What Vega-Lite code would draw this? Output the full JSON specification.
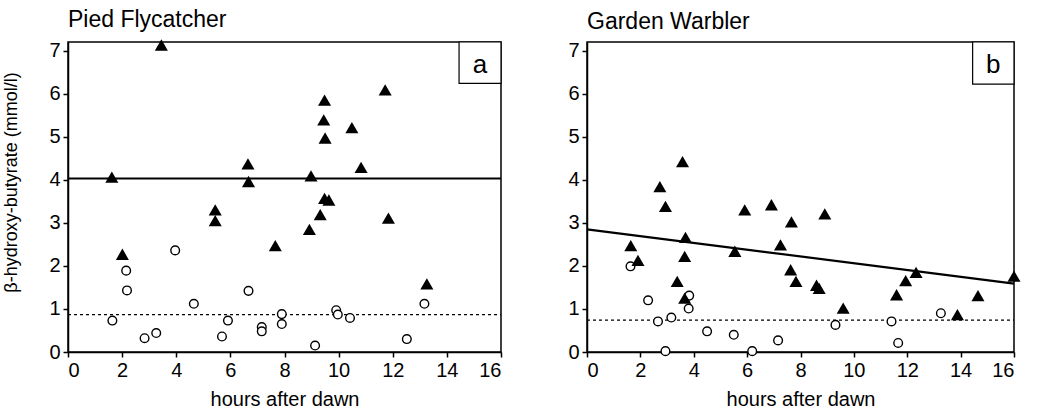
{
  "$schema": "https://vega.github.io/schema/vega-lite/v6.json",
  "background": "white",
  "padding": {"left": 2, "top": 8, "right": 5, "bottom": 0},
  "spacing": 60,
  "config": {
    "font": "Liberation Sans",
    "view": {"stroke": "black", "strokeWidth": 1.5},
    "axis": {
      "grid": false,
      "domainColor": "black",
      "domainWidth": 1.5,
      "tickColor": "black",
      "tickWidth": 1.5,
      "tickSize": 5,
      "labelColor": "black",
      "labelFont": "Liberation Sans",
      "labelFontSize": 20,
      "labelPadding": 3,
      "titleColor": "black",
      "titleFont": "Liberation Sans",
      "titleFontWeight": "normal"
    },
    "title": {"font": "Liberation Sans", "fontSize": 23, "fontWeight": "normal", "color": "black", "anchor": "start", "frame": "group", "offset": 7}
  },
  "datasets": {
    "points": [
      {"panel": "a", "group": "g1", "hours": 1.62, "bhb": 4.06},
      {"panel": "a", "group": "g1", "hours": 2.01, "bhb": 2.27},
      {"panel": "a", "group": "g1", "hours": 3.45, "bhb": 7.13},
      {"panel": "a", "group": "g1", "hours": 5.44, "bhb": 3.30},
      {"panel": "a", "group": "g1", "hours": 5.44, "bhb": 3.05},
      {"panel": "a", "group": "g1", "hours": 6.65, "bhb": 4.37},
      {"panel": "a", "group": "g1", "hours": 6.67, "bhb": 3.96},
      {"panel": "a", "group": "g1", "hours": 7.66, "bhb": 2.47},
      {"panel": "a", "group": "g1", "hours": 8.92, "bhb": 2.85},
      {"panel": "a", "group": "g1", "hours": 8.98, "bhb": 4.09},
      {"panel": "a", "group": "g1", "hours": 9.32, "bhb": 3.19},
      {"panel": "a", "group": "g1", "hours": 9.45, "bhb": 5.39},
      {"panel": "a", "group": "g1", "hours": 9.48, "bhb": 5.85},
      {"panel": "a", "group": "g1", "hours": 9.50, "bhb": 4.97},
      {"panel": "a", "group": "g1", "hours": 9.48, "bhb": 3.57},
      {"panel": "a", "group": "g1", "hours": 9.64, "bhb": 3.53},
      {"panel": "a", "group": "g1", "hours": 10.49, "bhb": 5.21},
      {"panel": "a", "group": "g1", "hours": 10.83, "bhb": 4.29},
      {"panel": "a", "group": "g1", "hours": 11.72, "bhb": 6.09},
      {"panel": "a", "group": "g1", "hours": 11.84, "bhb": 3.11},
      {"panel": "a", "group": "g1", "hours": 13.26, "bhb": 1.58},
      {"panel": "a", "group": "g2", "hours": 1.64, "bhb": 0.73},
      {"panel": "a", "group": "g2", "hours": 2.15, "bhb": 1.89},
      {"panel": "a", "group": "g2", "hours": 2.18, "bhb": 1.43},
      {"panel": "a", "group": "g2", "hours": 2.83, "bhb": 0.32},
      {"panel": "a", "group": "g2", "hours": 3.26, "bhb": 0.44},
      {"panel": "a", "group": "g2", "hours": 3.96, "bhb": 2.36},
      {"panel": "a", "group": "g2", "hours": 4.65, "bhb": 1.12},
      {"panel": "a", "group": "g2", "hours": 5.69, "bhb": 0.36},
      {"panel": "a", "group": "g2", "hours": 5.91, "bhb": 0.73},
      {"panel": "a", "group": "g2", "hours": 6.67, "bhb": 1.42},
      {"panel": "a", "group": "g2", "hours": 7.16, "bhb": 0.58},
      {"panel": "a", "group": "g2", "hours": 7.16, "bhb": 0.48},
      {"panel": "a", "group": "g2", "hours": 7.90, "bhb": 0.88},
      {"panel": "a", "group": "g2", "hours": 7.90, "bhb": 0.65},
      {"panel": "a", "group": "g2", "hours": 9.13, "bhb": 0.15},
      {"panel": "a", "group": "g2", "hours": 9.91, "bhb": 0.97},
      {"panel": "a", "group": "g2", "hours": 9.97, "bhb": 0.87},
      {"panel": "a", "group": "g2", "hours": 10.42, "bhb": 0.79},
      {"panel": "a", "group": "g2", "hours": 12.52, "bhb": 0.30},
      {"panel": "a", "group": "g2", "hours": 13.17, "bhb": 1.12},
      {"panel": "b", "group": "g1", "hours": 1.64, "bhb": 2.47},
      {"panel": "b", "group": "g1", "hours": 1.91, "bhb": 2.13},
      {"panel": "b", "group": "g1", "hours": 2.73, "bhb": 3.84},
      {"panel": "b", "group": "g1", "hours": 2.94, "bhb": 3.38},
      {"panel": "b", "group": "g1", "hours": 3.38, "bhb": 1.64},
      {"panel": "b", "group": "g1", "hours": 3.58, "bhb": 4.42},
      {"panel": "b", "group": "g1", "hours": 3.69, "bhb": 2.66},
      {"panel": "b", "group": "g1", "hours": 3.66, "bhb": 2.22},
      {"panel": "b", "group": "g1", "hours": 3.66, "bhb": 1.25},
      {"panel": "b", "group": "g1", "hours": 5.54, "bhb": 2.34},
      {"panel": "b", "group": "g1", "hours": 5.91, "bhb": 3.30},
      {"panel": "b", "group": "g1", "hours": 6.91, "bhb": 3.42},
      {"panel": "b", "group": "g1", "hours": 7.25, "bhb": 2.49},
      {"panel": "b", "group": "g1", "hours": 7.66, "bhb": 3.02},
      {"panel": "b", "group": "g1", "hours": 7.63, "bhb": 1.91},
      {"panel": "b", "group": "g1", "hours": 7.83, "bhb": 1.64},
      {"panel": "b", "group": "g1", "hours": 8.91, "bhb": 3.21},
      {"panel": "b", "group": "g1", "hours": 8.60, "bhb": 1.55},
      {"panel": "b", "group": "g1", "hours": 8.70, "bhb": 1.48},
      {"panel": "b", "group": "g1", "hours": 9.60, "bhb": 1.02},
      {"panel": "b", "group": "g1", "hours": 11.60, "bhb": 1.33},
      {"panel": "b", "group": "g1", "hours": 11.94, "bhb": 1.66},
      {"panel": "b", "group": "g1", "hours": 12.33, "bhb": 1.85},
      {"panel": "b", "group": "g1", "hours": 13.88, "bhb": 0.87},
      {"panel": "b", "group": "g1", "hours": 14.65, "bhb": 1.31},
      {"panel": "b", "group": "g1", "hours": 16.0, "bhb": 1.76},
      {"panel": "b", "group": "g2", "hours": 1.63, "bhb": 1.99},
      {"panel": "b", "group": "g2", "hours": 2.29, "bhb": 1.20},
      {"panel": "b", "group": "g2", "hours": 2.66, "bhb": 0.71},
      {"panel": "b", "group": "g2", "hours": 2.94, "bhb": 0.02},
      {"panel": "b", "group": "g2", "hours": 3.16, "bhb": 0.80},
      {"panel": "b", "group": "g2", "hours": 3.83, "bhb": 1.31},
      {"panel": "b", "group": "g2", "hours": 3.81, "bhb": 1.01},
      {"panel": "b", "group": "g2", "hours": 4.50, "bhb": 0.48},
      {"panel": "b", "group": "g2", "hours": 5.50, "bhb": 0.40},
      {"panel": "b", "group": "g2", "hours": 6.19, "bhb": 0.02},
      {"panel": "b", "group": "g2", "hours": 7.16, "bhb": 0.27},
      {"panel": "b", "group": "g2", "hours": 9.31, "bhb": 0.63},
      {"panel": "b", "group": "g2", "hours": 11.41, "bhb": 0.71},
      {"panel": "b", "group": "g2", "hours": 11.66, "bhb": 0.21},
      {"panel": "b", "group": "g2", "hours": 13.26, "bhb": 0.90}
    ],
    "lines": [
      {"panel": "a", "group": "g1", "hours": 0, "bhb": 4.03},
      {"panel": "a", "group": "g1", "hours": 16, "bhb": 4.03},
      {"panel": "a", "group": "g2", "hours": 0, "bhb": 0.87},
      {"panel": "a", "group": "g2", "hours": 16, "bhb": 0.87},
      {"panel": "b", "group": "g1", "hours": 0, "bhb": 2.85},
      {"panel": "b", "group": "g1", "hours": 16, "bhb": 1.59},
      {"panel": "b", "group": "g2", "hours": 0, "bhb": 0.74},
      {"panel": "b", "group": "g2", "hours": 16, "bhb": 0.74}
    ],
    "labels": [
      {"panel": "a", "label": "a"},
      {"panel": "b", "label": "b"}
    ]
  },
  "hconcat": [
    {
      "title": "Pied Flycatcher",
      "width": 433,
      "height": 310,
      "layer": [
        {
          "data": {"name": "lines"},
          "transform": [{"filter": "datum.panel === 'a' && datum.group === 'g1'"}],
          "mark": {"type": "line", "color": "black", "strokeWidth": 2.2},
          "encoding": {
            "x": {"field": "hours", "type": "quantitative", "scale": {"domain": [0, 16], "nice": false},
                  "axis": {"values": [0, 2, 4, 6, 8, 10, 12, 14, 16], "title": "hours after dawn", "titleFontSize": 20, "titlePadding": 9}},
            "y": {"field": "bhb", "type": "quantitative", "scale": {"domain": [0, 7.2], "nice": false},
                  "axis": {"values": [0, 1, 2, 3, 4, 5, 6, 7], "title": "β-hydroxy-butyrate (mmol/l)", "titleFontSize": 18, "titlePadding": 28, "titleY": 140}}
          }
        },
        {
          "data": {"name": "lines"},
          "transform": [{"filter": "datum.panel === 'a' && datum.group === 'g2'"}],
          "mark": {"type": "line", "color": "black", "strokeWidth": 1.2, "strokeDash": [3, 3]},
          "encoding": {
            "x": {"field": "hours", "type": "quantitative"},
            "y": {"field": "bhb", "type": "quantitative"}
          }
        },
        {
          "data": {"name": "points"},
          "transform": [{"filter": "datum.panel === 'a' && datum.group === 'g2'"}],
          "mark": {"type": "point", "shape": "circle", "filled": false, "fill": "white", "fillOpacity": 1, "stroke": "black", "strokeWidth": 1.4, "size": 75, "opacity": 1},
          "encoding": {
            "x": {"field": "hours", "type": "quantitative"},
            "y": {"field": "bhb", "type": "quantitative"}
          }
        },
        {
          "data": {"name": "points"},
          "transform": [{"filter": "datum.panel === 'a' && datum.group === 'g1'"}],
          "mark": {"type": "point", "shape": "triangle-up", "filled": true, "color": "black", "size": 170, "opacity": 1},
          "encoding": {
            "x": {"field": "hours", "type": "quantitative"},
            "y": {"field": "bhb", "type": "quantitative"}
          }
        },
        {
          "data": {"name": "labels"},
          "transform": [{"filter": "datum.panel === 'a'"}],
          "mark": {"type": "rect", "fill": "white", "stroke": "black", "strokeWidth": 1.2},
          "encoding": {
            "x": {"datum": 14.45, "type": "quantitative"},
            "x2": {"datum": 16},
            "y": {"datum": 6.24, "type": "quantitative"},
            "y2": {"datum": 7.2}
          }
        },
        {
          "data": {"name": "labels"},
          "transform": [{"filter": "datum.panel === 'a'"}],
          "mark": {"type": "text", "fontSize": 26, "color": "black", "align": "center", "baseline": "middle"},
          "encoding": {
            "x": {"datum": 15.22, "type": "quantitative"},
            "y": {"datum": 6.66, "type": "quantitative"},
            "text": {"field": "label"}
          }
        }
      ]
    },
    {
      "title": "Garden Warbler",
      "width": 427,
      "height": 310,
      "layer": [
        {
          "data": {"name": "lines"},
          "transform": [{"filter": "datum.panel === 'b' && datum.group === 'g1'"}],
          "mark": {"type": "line", "color": "black", "strokeWidth": 2.2},
          "encoding": {
            "x": {"field": "hours", "type": "quantitative", "scale": {"domain": [0, 16], "nice": false},
                  "axis": {"values": [0, 2, 4, 6, 8, 10, 12, 14, 16], "title": "hours after dawn", "titleFontSize": 20, "titlePadding": 9}},
            "y": {"field": "bhb", "type": "quantitative", "scale": {"domain": [0, 7.2], "nice": false},
                  "axis": {"values": [0, 1, 2, 3, 4, 5, 6, 7], "title": null}}
          }
        },
        {
          "data": {"name": "lines"},
          "transform": [{"filter": "datum.panel === 'b' && datum.group === 'g2'"}],
          "mark": {"type": "line", "color": "black", "strokeWidth": 1.2, "strokeDash": [3, 3]},
          "encoding": {
            "x": {"field": "hours", "type": "quantitative"},
            "y": {"field": "bhb", "type": "quantitative"}
          }
        },
        {
          "data": {"name": "points"},
          "transform": [{"filter": "datum.panel === 'b' && datum.group === 'g2'"}],
          "mark": {"type": "point", "shape": "circle", "filled": false, "fill": "white", "fillOpacity": 1, "stroke": "black", "strokeWidth": 1.4, "size": 75, "opacity": 1},
          "encoding": {
            "x": {"field": "hours", "type": "quantitative"},
            "y": {"field": "bhb", "type": "quantitative"}
          }
        },
        {
          "data": {"name": "points"},
          "transform": [{"filter": "datum.panel === 'b' && datum.group === 'g1'"}],
          "mark": {"type": "point", "shape": "triangle-up", "filled": true, "color": "black", "size": 170, "opacity": 1},
          "encoding": {
            "x": {"field": "hours", "type": "quantitative"},
            "y": {"field": "bhb", "type": "quantitative"}
          }
        },
        {
          "data": {"name": "labels"},
          "transform": [{"filter": "datum.panel === 'b'"}],
          "mark": {"type": "rect", "fill": "white", "stroke": "black", "strokeWidth": 1.2},
          "encoding": {
            "x": {"datum": 14.45, "type": "quantitative"},
            "x2": {"datum": 16},
            "y": {"datum": 6.22, "type": "quantitative"},
            "y2": {"datum": 7.2}
          }
        },
        {
          "data": {"name": "labels"},
          "transform": [{"filter": "datum.panel === 'b'"}],
          "mark": {"type": "text", "fontSize": 26, "color": "black", "align": "center", "baseline": "middle"},
          "encoding": {
            "x": {"datum": 15.22, "type": "quantitative"},
            "y": {"datum": 6.66, "type": "quantitative"},
            "text": {"field": "label"}
          }
        }
      ]
    }
  ]
}
